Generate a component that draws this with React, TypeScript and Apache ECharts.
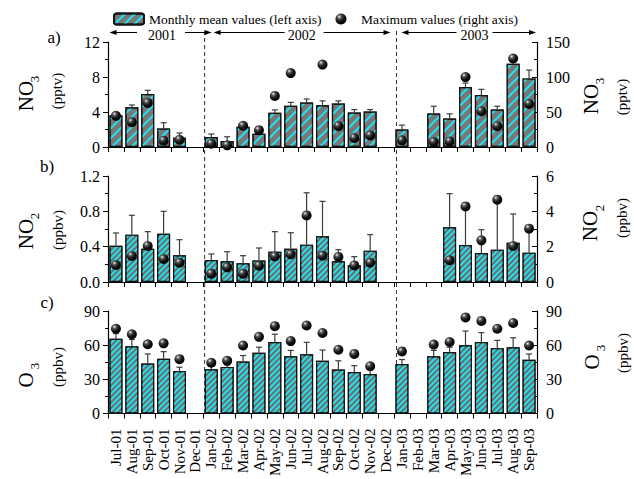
import React, { useEffect, useRef } from 'react';
import * as echarts from 'echarts';

const months = ['Jul-01','Aug-01','Sep-01','Oct-01','Nov-01','Dec-01','Jan-02','Feb-02','Mar-02','Apr-02','May-02','Jun-02','Jul-02','Aug-02','Sep-02','Oct-02','Nov-02','Dec-02','Jan-03','Feb-03','Mar-03','Apr-03','May-03','Jun-03','Jul-03','Aug-03','Sep-03'];

// a) NO3 (pptv): monthly mean (left), SD, maximum (right)
const no3Mean = [3.64, 4.55, 6.06, 2.12, 1.06, null, 1.14, 0.68, 2.31, 1.52, 3.9, 4.7, 5.08, 4.77, 4.96, 3.94, 4.05, null, 2.0, null, 3.83, 3.26, 6.86, 5.95, 4.28, 9.51, 7.84];
const no3Sd = [0.2, 0.25, 0.42, 0.65, 0.54, null, 0.34, 0.49, 0.12, 0.08, 0.34, 0.4, 0.41, 0.5, 0.31, 0.34, 0.23, null, 0.5, null, 0.83, 0.53, 0.45, 0.64, 0.38, 0.2, 0.95];
const no3Max = [44.5, 35.5, 63, 9, 10.4, null, 4.7, 2.4, 30.3, 24, 73, 105.6, null, 117.7, 29.8, 12.8, 16.6, null, 9.5, null, 7.1, 8, 99.9, 51.1, 29.8, 126.4, 61.6];

// b) NO2 (ppbv)
const no2Mean = [0.411, 0.536, 0.377, 0.547, 0.302, null, 0.249, 0.234, 0.211, 0.242, 0.343, 0.377, 0.423, 0.517, 0.234, 0.189, 0.355, null, null, null, null, 0.619, 0.419, 0.328, 0.366, 0.445, 0.332];
const no2Sd = [0.144, 0.219, 0.193, 0.253, 0.177, null, 0.068, 0.109, 0.087, 0.143, 0.227, 0.181, 0.587, 0.396, 0.132, 0.098, 0.181, null, null, null, null, 0.381, 0.438, 0.264, 0.566, 0.325, 0.272];
const no2Max = [0.96, 1.47, 2.04, 1.3, 1.09, null, 0.47, 0.83, 0.47, 0.92, 1.45, 1.57, 3.77, 1.49, 1.42, 0.94, 1.09, null, null, null, null, 1.23, 4.28, 2.36, 4.66, 2.04, 3.02];

// c) O3 (ppbv)
const o3Mean = [65.6, 59.1, 43.8, 48, 37.2, null, 38.9, 40.9, 45.7, 53.4, 62.8, 50.3, 52, 46.3, 38.6, 36.4, 34.7, null, 43.5, null, 50.3, 54, 59.9, 62.8, 57.4, 58.2, 47.2];
const o3Sd = [4.6, 5.9, 8.5, 6.3, 3.4, null, 2.6, 1.7, 5.2, 4.8, 6.8, 5.1, 10.5, 9.4, 7.7, 5.6, 3.7, null, 3.9, null, 5.1, 4.2, 12.5, 8.2, 6.8, 8.3, 5.1];
const o3Max = [74.4, 69.6, 60.8, 61.6, 47.7, null, 44.6, 46.3, 59.7, 67.3, 76.7, 63.6, 77.3, 70.7, 56, 52.3, 41.5, null, 54.5, null, 60.5, 62.8, 84.4, 81.3, 74.4, 79.5, 59.7];

// axis settings: [min, max, interval] left / right
const leftAxes = [[0, 12, 4], [0, 1.2, 0.4], [0, 90, 30]];
const rightAxes = [[0, 150, 50], [0, 6, 2], [0, 90, 30]];
const years = ['2001', '2002', '2003'];

const FONT = '"Liberation Serif", "Times New Roman", serif';
const MEAN_NAME = 'Monthly mean values (left axis)';
const MAX_NAME = 'Maximum values (right axis)';

const grids = [
  { left: 108, width: 429, top: 42, height: 105 },
  { left: 108, width: 429, top: 176, height: 106 },
  { left: 108, width: 429, top: 311, height: 106 },
];

const ballColor = new echarts.graphic.RadialGradient(0.35, 0.3, 0.75, [
  { offset: 0, color: '#f4f4f4' },
  { offset: 0.25, color: '#555' },
  { offset: 0.6, color: '#111' },
  { offset: 1, color: '#000' },
]);

function decal(dense: boolean) {
  return {
    symbol: 'rect',
    symbolSize: 1,
    dashArrayX: [1, 0],
    dashArrayY: dense ? [1.1, 1.8] : [1.4, 4.3],
    rotation: -Math.PI / 4,
    color: '#1fe3ee',
  };
}

export default function App() {
  const ref = useRef<HTMLDivElement>(null);
  useEffect(() => {
    document.body.style.margin = '0';
    const chart = echarts.init(ref.current!, null, { renderer: 'svg' });
    const means = [no3Mean, no2Mean, o3Mean];
    const sds = [no3Sd, no2Sd, o3Sd];
    const maxs = [no3Max, no2Max, o3Max];

    const xAxis = grids.map((_, p) => ({
      type: 'category',
      gridIndex: p,
      data: months,
      boundaryGap: true,
      axisLine: { show: true, lineStyle: { color: '#000', width: 1.2 } },
      axisTick: { show: true, interval: 0, length: 5, lineStyle: { color: '#000' } },
      axisLabel: p === 2
        ? { show: true, interval: 0, rotate: 90, margin: 15, fontFamily: FONT, fontSize: 15, color: '#000' }
        : { show: false },
      splitLine: { show: false },
    }));

    const fmt = (p: number) => (v: number) => (p === 1 ? v.toFixed(1) : String(v));
    const yAxis: any[] = [];
    grids.forEach((_, p) => {
      const [lmin, lmax, lint] = leftAxes[p];
      const [rmin, rmax, rint] = rightAxes[p];
      yAxis.push({
        type: 'value', gridIndex: p, position: 'left', min: lmin, max: lmax, interval: lint,
        axisLine: { show: true, lineStyle: { color: '#000', width: 1.2 } },
        axisTick: { show: true, inside: false, length: 5, lineStyle: { color: '#000' } },
        minorTick: { show: true, splitNumber: 2, length: 3, lineStyle: { color: '#000' } },
        splitLine: { show: false },
        axisLabel: { fontFamily: FONT, fontSize: 16, color: '#000', margin: 8, formatter: fmt(p) },
      });
      yAxis.push({
        type: 'value', gridIndex: p, position: 'right', min: rmin, max: rmax, interval: rint,
        axisLine: { show: true, lineStyle: { color: '#000', width: 1.2 } },
        axisTick: { show: true, inside: true, length: 5, lineStyle: { color: '#000' } },
        minorTick: { show: true, splitNumber: 2, length: 3, lineStyle: { color: '#000' } },
        splitLine: { show: false },
        axisLabel: { fontFamily: FONT, fontSize: 16, color: '#000', margin: 9 },
      });
    });

    const series: any[] = [];
    grids.forEach((_, p) => {
      const mean = means[p];
      const sd = sds[p];
      const mx = maxs[p];
      series.push({
        type: 'bar',
        name: MEAN_NAME,
        xAxisIndex: p,
        yAxisIndex: 2 * p,
        barWidth: 13,
        data: mean.map((v) => (v == null ? '-' : v)),
        itemStyle: { color: p === 0 ? '#787878' : '#6e6e6e', borderColor: '#151515', borderWidth: 1.2, decal: decal(p !== 0) },
        z: 2,
      });
      const errData: any[] = [];
      mean.forEach((v, i) => {
        if (v != null && sd[i] != null) errData.push([i, v, v + (sd[i] as number)]);
      });
      series.push({
        type: 'custom',
        xAxisIndex: p,
        yAxisIndex: 2 * p,
        data: errData,
        encode: { x: 0, y: [1, 2] },
        z: 3,
        renderItem: (params: any, api: any) => {
          const i = api.value(0);
          const p0 = api.coord([i, api.value(1)]);
          const p1 = api.coord([i, api.value(2)]);
          const hw = 3;
          return {
            type: 'group',
            children: [
              { type: 'line', shape: { x1: p0[0], y1: p0[1], x2: p1[0], y2: p1[1] }, style: { stroke: '#3c3c3c', lineWidth: 1.2 } },
              { type: 'line', shape: { x1: p1[0] - hw, y1: p1[1], x2: p1[0] + hw, y2: p1[1] }, style: { stroke: '#3c3c3c', lineWidth: 1.2 } },
            ],
          };
        },
      });
      const sData: any[] = [];
      mx.forEach((v, i) => {
        if (v != null) sData.push([months[i], v]);
      });
      series.push({
        type: 'scatter',
        name: MAX_NAME,
        xAxisIndex: p,
        yAxisIndex: 2 * p + 1,
        symbol: 'circle',
        symbolSize: 10,
        data: sData,
        itemStyle: { color: ballColor, opacity: 1 },
        z: 5,
      });
    });

    chart.setOption({
      animation: false,
      grid: grids,
      xAxis,
      yAxis,
      series,
      legend: {
        left: 113,
        top: 12,
        padding: 0,
        itemWidth: 30,
        itemHeight: 11,
        itemGap: 14,
        selectedMode: false,
        textStyle: { fontFamily: FONT, fontSize: 13.5, color: '#000' },
        data: [
          { name: MEAN_NAME },
          { name: MAX_NAME, icon: 'circle', itemStyle: { color: ballColor } },
        ],
      },
    });

    // annotation positions derived from the axes
    const cx = (m: string) => chart.convertToPixel({ xAxisIndex: 2 }, m) as unknown as number;
    const cw = cx(months[1]) - cx(months[0]);
    const L = cx(months[0]) - cw / 2;
    const R = cx(months[months.length - 1]) + cw / 2;
    const B1 = (cx('Dec-01') + cx('Jan-02')) / 2 + 1.3;
    const B2 = (cx('Dec-02') + cx('Jan-03')) / 2 + 2.5;
    const yBottom = chart.convertToPixel({ yAxisIndex: 4 }, 0) as unknown as number;
    const yTop = 31;
    const ay = 32.5;
    const ty = 35.5;

    const arrow = (tail: number, head: number) => {
      const dir = head > tail ? 1 : -1;
      return [
        { type: 'line', shape: { x1: tail, y1: ay, x2: head - dir * 5, y2: ay }, style: { stroke: '#000', lineWidth: 1 } },
        { type: 'polygon', shape: { points: [[head, ay], [head - dir * 7, ay - 2.5], [head - dir * 7, ay + 2.5]] }, style: { fill: '#000' } },
      ];
    };
    const txt = (text: string, x: number, y: number, size: number, rot = 0, align = 'center') => ({
      type: 'text', x, y, rotation: rot,
      style: { text, fontFamily: FONT, fontSize: size, fill: '#000', align, verticalAlign: 'middle' },
    });
    const R90 = Math.PI / 2;

    const graphic: any[] = [
      { type: 'line', shape: { x1: B1, y1: yTop, x2: B1, y2: yBottom }, style: { stroke: '#333', lineWidth: 1, lineDash: [4, 3] } },
      { type: 'line', shape: { x1: B2, y1: yTop, x2: B2, y2: yBottom }, style: { stroke: '#333', lineWidth: 1, lineDash: [4, 3] } },
      ...arrow(L + 29, L + 1.5),
      txt(years[0], L + 54, ty, 14),
      ...arrow(L + 77, B1 + 7),
      ...arrow(B1 + 80, B1 + 9),
      txt(years[1], B1 + 97, ty, 14),
      ...arrow(B1 + 119, B2 - 6),
      ...arrow(B2 + 60, B2 + 5),
      txt(years[2], B2 + 78, ty, 14),
      ...arrow(B2 + 96, R - 1),
      txt('a)', 54, 37, 17),
      txt('b)', 47, 166, 17),
      txt('c)', 47, 302, 17),
      // left titles
      txt('NO', 26, 96, 21, R90), txt('3', 34, 79, 13, R90),
      txt('(pptv)', 57, 91, 15, R90),
      txt('NO', 26, 234, 21, R90), txt('2', 34, 216, 13, R90),
      txt('(ppbv)', 58, 230, 15, R90),
      txt('O', 26, 380, 21, R90), txt('3', 34, 366, 13, R90),
      txt('(ppbv)', 58, 367, 15, R90),
      // right titles
      txt('NO', 591, 99, 21, R90), txt('3', 599, 81, 13, R90),
      txt('(pptv)', 622, 97, 15, R90),
      txt('NO', 590, 226, 21, R90), txt('2', 599, 208, 13, R90),
      txt('(ppbv)', 622, 218, 15, R90),
      txt('O', 592, 362, 21, R90), txt('3', 600, 348, 13, R90),
      txt('(ppbv)', 623, 353, 15, R90),
    ];
    chart.setOption({ graphic });

    return () => chart.dispose();
  }, []);
  return <div ref={ref} style={{ width: 634, height: 479 }} />;
}
